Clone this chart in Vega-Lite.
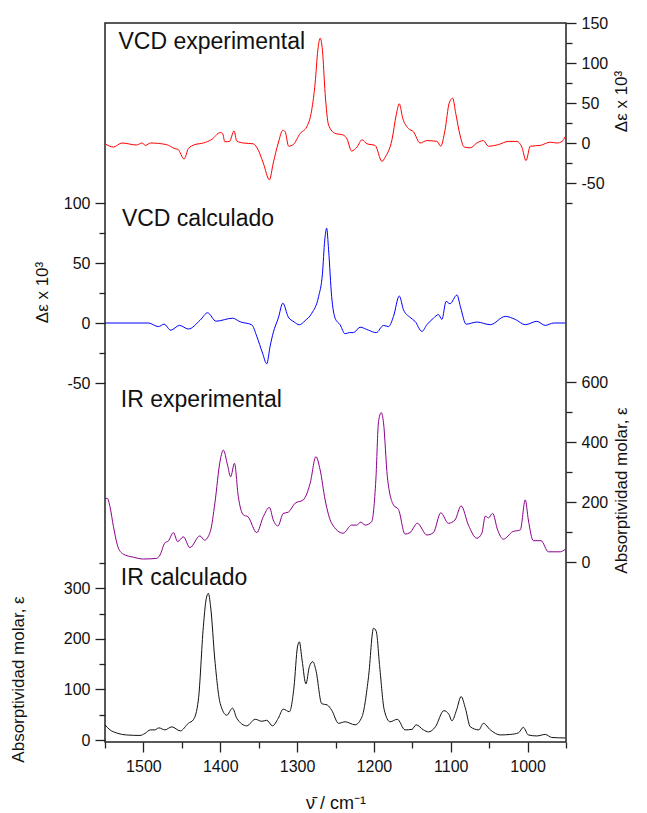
{
  "$schema": "https://vega.github.io/schema/vega-lite/v6.json",
  "width": 461,
  "height": 719,
  "autosize": {"type": "none"},
  "padding": {"left": 105, "top": 23, "right": 81, "bottom": 71},
  "config": {
    "font": "Liberation Sans",
    "view": {"stroke": "#222", "strokeWidth": 1.5},
    "axis": {
      "domain": false, "grid": false, "tickColor": "#222", "tickWidth": 1.3,
      "labelFontSize": 16, "labelColor": "#111", "labelFont": "Liberation Sans",
      "titleFont": "Liberation Sans", "titleFontSize": 17, "titleFontWeight": "normal", "titleColor": "#111",
      "labelPadding": 5, "labelOverlap": false, "labelFlush": false
    },
    "axisX": {
      "values": [1550,1500,1450,1400,1350,1300,1250,1200,1150,1100,1050,1000,950],
      "format": "d",
      "labelExpr": "datum.value % 100 === 0 ? datum.label : ''",
      "tickSize": {"condition": {"test": "datum.value % 100 === 0", "value": 10}, "value": 6},
      "labelPadding": 6,
      "titleFontSize": 18,
      "titleX": 230.5, "titleY": 66, "titleBaseline": "alphabetic", "titleAlign": "center"
    }
  },
  "datasets": {
    "vcdexp": [
      {"nu":1550,"v":-1},{"nu":1539,"v":-5},{"nu":1528,"v":0},{"nu":1509,"v":-2.5},{"nu":1502,"v":0},{"nu":1497,"v":-3},{"nu":1491,"v":0},{"nu":1470,"v":-2},{"nu":1459,"v":-7},{"nu":1455,"v":-8},{"nu":1447,"v":-20},{"nu":1441.5,"v":-7},{"nu":1433,"v":-2},{"nu":1422,"v":0},{"nu":1411,"v":4.5},{"nu":1400,"v":13},{"nu":1397,"v":12},{"nu":1394,"v":1.5},{"nu":1388,"v":2},{"nu":1382,"v":15},{"nu":1378.5,"v":2.5},{"nu":1370,"v":0},{"nu":1357,"v":-1},{"nu":1350.5,"v":-9},{"nu":1344,"v":-25},{"nu":1336,"v":-46},{"nu":1331,"v":-25},{"nu":1324.5,"v":0},{"nu":1318.5,"v":16},{"nu":1315.5,"v":14},{"nu":1311,"v":-4},{"nu":1305,"v":-2},{"nu":1296,"v":12},{"nu":1287.5,"v":20},{"nu":1281,"v":41},{"nu":1276.5,"v":75},{"nu":1273,"v":116},{"nu":1270,"v":131},{"nu":1267,"v":116},{"nu":1263.5,"v":62},{"nu":1259,"v":22.5},{"nu":1250.5,"v":12},{"nu":1240,"v":10},{"nu":1235,"v":5},{"nu":1229,"v":-10},{"nu":1222,"v":-5},{"nu":1215.5,"v":4},{"nu":1209,"v":-1},{"nu":1198.5,"v":-3},{"nu":1189.5,"v":-23},{"nu":1185.5,"v":-18},{"nu":1176.5,"v":4},{"nu":1171,"v":35},{"nu":1167,"v":49},{"nu":1162.5,"v":31},{"nu":1155,"v":18},{"nu":1148.5,"v":14},{"nu":1140,"v":0},{"nu":1131,"v":3},{"nu":1118,"v":2},{"nu":1113,"v":-4},{"nu":1107.5,"v":16},{"nu":1102,"v":50},{"nu":1097.5,"v":56},{"nu":1093.5,"v":37},{"nu":1088,"v":10},{"nu":1082.5,"v":-5},{"nu":1074.5,"v":-6},{"nu":1066,"v":0},{"nu":1057.5,"v":3},{"nu":1051,"v":-4},{"nu":1038,"v":-2},{"nu":1025,"v":2},{"nu":1014,"v":2},{"nu":1007.5,"v":-5},{"nu":1002,"v":-22},{"nu":996.5,"v":-4},{"nu":983.5,"v":-3},{"nu":970.5,"v":1},{"nu":962,"v":0},{"nu":955,"v":2},{"nu":951,"v":8}
    ],
    "vcdcalc": [
      {"nu":1550,"v":0},{"nu":1493.5,"v":0},{"nu":1480.5,"v":-3},{"nu":1473,"v":-1},{"nu":1464.5,"v":-6},{"nu":1453,"v":-2},{"nu":1441.5,"v":-5},{"nu":1426,"v":2.5},{"nu":1416.5,"v":8.5},{"nu":1405.5,"v":1.5},{"nu":1384,"v":4},{"nu":1374,"v":1},{"nu":1359,"v":-1.5},{"nu":1352.5,"v":-11},{"nu":1345,"v":-25},{"nu":1339.5,"v":-34},{"nu":1335,"v":-19},{"nu":1331,"v":-8},{"nu":1324.5,"v":4},{"nu":1318.5,"v":16.5},{"nu":1311.5,"v":5},{"nu":1304,"v":1},{"nu":1297,"v":-1.5},{"nu":1289.5,"v":2},{"nu":1281,"v":8},{"nu":1272,"v":22},{"nu":1267,"v":41},{"nu":1264,"v":69},{"nu":1261.5,"v":79},{"nu":1259,"v":61},{"nu":1255,"v":22},{"nu":1250.5,"v":4},{"nu":1244,"v":-1.5},{"nu":1237.5,"v":-9},{"nu":1232,"v":-8},{"nu":1226.5,"v":-8},{"nu":1218,"v":-3.5},{"nu":1207,"v":-6},{"nu":1197,"v":-8},{"nu":1187.5,"v":-2},{"nu":1181,"v":-3},{"nu":1174.5,"v":5.5},{"nu":1167,"v":22.5},{"nu":1161.5,"v":11},{"nu":1153,"v":4.7},{"nu":1146.5,"v":1.4},{"nu":1137.5,"v":-7},{"nu":1131,"v":-1.4},{"nu":1122.5,"v":4},{"nu":1116,"v":7},{"nu":1111.5,"v":3},{"nu":1106,"v":18},{"nu":1101,"v":16},{"nu":1092,"v":23.3},{"nu":1087,"v":12.5},{"nu":1080,"v":-1},{"nu":1066,"v":0.8},{"nu":1048.5,"v":-1.4},{"nu":1029,"v":5.5},{"nu":1016,"v":3},{"nu":1003,"v":-1.4},{"nu":988,"v":1.4},{"nu":977,"v":-2},{"nu":966,"v":0},{"nu":951,"v":0}
    ],
    "irexp": [
      {"nu":1550,"v":212},{"nu":1547,"v":212},{"nu":1543.5,"v":184},{"nu":1539,"v":118},{"nu":1532.5,"v":46},{"nu":1526,"v":26},{"nu":1513,"v":16},{"nu":1500,"v":10},{"nu":1483,"v":12},{"nu":1478.5,"v":23},{"nu":1472,"v":64},{"nu":1467.5,"v":70},{"nu":1461,"v":98},{"nu":1455.5,"v":68},{"nu":1448,"v":84},{"nu":1439.5,"v":48},{"nu":1426.5,"v":87},{"nu":1420.5,"v":73},{"nu":1413,"v":101},{"nu":1407,"v":196},{"nu":1400,"v":340},{"nu":1396,"v":373},{"nu":1390.5,"v":323},{"nu":1386.5,"v":284},{"nu":1381.5,"v":329},{"nu":1376.5,"v":218},{"nu":1370,"v":157},{"nu":1364,"v":151},{"nu":1352.5,"v":98},{"nu":1344,"v":151},{"nu":1336,"v":182},{"nu":1331,"v":140},{"nu":1325,"v":120},{"nu":1318,"v":162},{"nu":1311.5,"v":166},{"nu":1302.5,"v":196},{"nu":1292,"v":207},{"nu":1283,"v":262},{"nu":1275.5,"v":351},{"nu":1270,"v":307},{"nu":1263.5,"v":207},{"nu":1255,"v":129},{"nu":1240,"v":96},{"nu":1229,"v":123},{"nu":1222.5,"v":123},{"nu":1217,"v":133},{"nu":1211.5,"v":123},{"nu":1203,"v":134},{"nu":1197.5,"v":273},{"nu":1194,"v":468},{"nu":1190.5,"v":498},{"nu":1187.5,"v":464},{"nu":1182.5,"v":284},{"nu":1174.5,"v":190},{"nu":1168,"v":175},{"nu":1159.5,"v":93},{"nu":1153,"v":98},{"nu":1143.5,"v":129},{"nu":1131,"v":90},{"nu":1122.5,"v":98},{"nu":1113,"v":164},{"nu":1103,"v":129},{"nu":1094.5,"v":140},{"nu":1086.5,"v":187},{"nu":1077,"v":123},{"nu":1066,"v":79},{"nu":1059.5,"v":96},{"nu":1055,"v":153},{"nu":1051,"v":147},{"nu":1045.5,"v":162},{"nu":1039,"v":107},{"nu":1031.5,"v":76},{"nu":1019.5,"v":101},{"nu":1009.5,"v":107},{"nu":1003,"v":207},{"nu":999,"v":140},{"nu":992.5,"v":71},{"nu":982.5,"v":71},{"nu":973,"v":34},{"nu":957.5,"v":34},{"nu":951,"v":42}
    ],
    "ircalc": [
      {"nu":1550,"v":30},{"nu":1543.5,"v":20},{"nu":1535,"v":14},{"nu":1522,"v":10},{"nu":1504.5,"v":9},{"nu":1498,"v":13},{"nu":1491,"v":20},{"nu":1485,"v":20},{"nu":1480,"v":24},{"nu":1472,"v":20},{"nu":1463,"v":26},{"nu":1452,"v":18},{"nu":1441.5,"v":33},{"nu":1435,"v":40},{"nu":1428.5,"v":79},{"nu":1422,"v":224},{"nu":1418.5,"v":277},{"nu":1415.5,"v":290},{"nu":1412.5,"v":263},{"nu":1407,"v":158},{"nu":1400,"v":72},{"nu":1391.5,"v":49},{"nu":1384,"v":63},{"nu":1378.5,"v":43},{"nu":1365.5,"v":28},{"nu":1354.5,"v":41},{"nu":1346,"v":37},{"nu":1339.5,"v":39},{"nu":1332,"v":28},{"nu":1324.5,"v":43},{"nu":1318,"v":61},{"nu":1310,"v":56},{"nu":1304,"v":105},{"nu":1299.5,"v":184},{"nu":1297,"v":194},{"nu":1293.5,"v":158},{"nu":1288.5,"v":111},{"nu":1284,"v":145},{"nu":1279.5,"v":155},{"nu":1275.5,"v":138},{"nu":1268,"v":72},{"nu":1260.5,"v":69},{"nu":1255,"v":59},{"nu":1246,"v":33},{"nu":1237.5,"v":36},{"nu":1224.5,"v":30},{"nu":1215.5,"v":46},{"nu":1207,"v":125},{"nu":1200.5,"v":221},{"nu":1197,"v":215},{"nu":1192.5,"v":145},{"nu":1186.5,"v":59},{"nu":1179,"v":36},{"nu":1169.5,"v":41},{"nu":1159.5,"v":20},{"nu":1150.5,"v":21},{"nu":1145,"v":30},{"nu":1135.5,"v":20},{"nu":1129,"v":16},{"nu":1120,"v":26},{"nu":1109,"v":58},{"nu":1102.5,"v":51},{"nu":1098.5,"v":38},{"nu":1092.5,"v":59},{"nu":1086.5,"v":86},{"nu":1081,"v":63},{"nu":1074.5,"v":26},{"nu":1063.5,"v":20},{"nu":1057.5,"v":33},{"nu":1048.5,"v":20},{"nu":1035.5,"v":10},{"nu":1022.5,"v":11},{"nu":1012,"v":14},{"nu":1005.5,"v":25},{"nu":999,"v":10},{"nu":988,"v":8},{"nu":977,"v":11},{"nu":968.5,"v":5},{"nu":951,"v":4}
    ],
    "labels": [
      {"panel":"a","label":"VCD experimental"},
      {"panel":"b","label":"VCD calculado"},
      {"panel":"c","label":"IR experimental"},
      {"panel":"d","label":"IR calculado"}
    ]
  },
  "layer": [
    {
      "data": {"name": "vcdexp"},
      "mark": {"type": "line", "color": "#ff0000", "strokeWidth": 1, "interpolate": "monotone"},
      "encoding": {
        "x": {
          "field": "nu", "type": "quantitative", "title": "ν̄ / cm⁻¹",
          "scale": {"domain": [950, 1550], "reverse": true, "nice": false, "zero": false}
        },
        "y": {"field": "v", "type": "quantitative",
          "scale": {"domain": [-75, 150], "range": [180, 0], "nice": false, "zero": false},
          "axis": {"orient": "right", "values": [-75,-50,-25,0,25,50,75,100,125,150],
            "labelExpr": "datum.value % 50 === 0 ? replace(datum.label, '−', '-') : ''",
            "tickSize": {"condition": {"test": "datum.value % 50 === 0", "value": 10}, "value": 6},
            "title": "Δε x 10³", "titleAngle": 270, "titleX": 55, "titleY": 78, "titleBaseline": "middle", "titleAlign": "center"}}
      }
    },
    {
      "data": {"name": "vcdcalc"},
      "mark": {"type": "line", "color": "#0000ff", "strokeWidth": 1, "interpolate": "monotone"},
      "encoding": {
        "x": {"field": "nu", "type": "quantitative", "title": "ν̄ / cm⁻¹"},
        "y": {"field": "v", "type": "quantitative",
          "scale": {"domain": [-50, 100], "range": [360, 180], "nice": false, "zero": false},
          "axis": {"orient": "left", "values": [-50,-25,0,25,50,75,100],
            "labelExpr": "datum.value % 50 === 0 ? replace(datum.label, '−', '-') : ''",
            "tickSize": {"condition": {"test": "datum.value % 50 === 0", "value": 10}, "value": 6},
            "title": "Δε x 10³", "titleAngle": 270, "titleX": -63, "titleY": 269, "titleBaseline": "middle", "titleAlign": "center"}}
      }
    },
    {
      "data": {"name": "irexp"},
      "mark": {"type": "line", "color": "#8b008b", "strokeWidth": 1, "interpolate": "monotone"},
      "encoding": {
        "x": {"field": "nu", "type": "quantitative", "title": "ν̄ / cm⁻¹"},
        "y": {"field": "v", "type": "quantitative",
          "scale": {"domain": [0, 600], "range": [539, 359], "nice": false, "zero": false},
          "axis": {"orient": "right", "values": [0,100,200,300,400,500,600],
            "labelExpr": "datum.value % 200 === 0 ? datum.label : ''",
            "tickSize": {"condition": {"test": "datum.value % 200 === 0", "value": 10}, "value": 6},
            "title": "Absorptividad molar, ε", "titleAngle": 270, "titleX": 55, "titleY": 467, "titleBaseline": "middle", "titleAlign": "center"}}
      }
    },
    {
      "data": {"name": "ircalc"},
      "mark": {"type": "line", "color": "#111111", "strokeWidth": 1, "interpolate": "monotone"},
      "encoding": {
        "x": {"field": "nu", "type": "quantitative", "title": "ν̄ / cm⁻¹"},
        "y": {"field": "v", "type": "quantitative",
          "scale": {"domain": [0, 350], "range": [717, 540], "nice": false, "zero": false},
          "axis": {"orient": "left", "values": [0,50,100,150,200,250,300,350],
            "labelExpr": "datum.value % 100 === 0 ? datum.label : ''",
            "tickSize": {"condition": {"test": "datum.value % 100 === 0", "value": 10}, "value": 6},
            "title": "Absorptividad molar, ε", "titleAngle": 270, "titleX": -87, "titleY": 656, "titleBaseline": "middle", "titleAlign": "center"}}
      }
    },
    {
      "data": {"name": "labels"},
      "transform": [{"filter": "datum.panel === 'a'"}],
      "mark": {"type": "text", "align": "left", "baseline": "middle", "fontSize": 23, "font": "Liberation Sans", "color": "#111"},
      "encoding": {
        "x": {"datum": 1532.5, "type": "quantitative", "title": "ν̄ / cm⁻¹"},
        "y": {"datum": 126.5, "type": "quantitative", "scale": {"domain": [-75, 150], "range": [180, 0], "nice": false, "zero": false}, "axis": null},
        "text": {"field": "label"}
      }
    },
    {
      "data": {"name": "labels"},
      "transform": [{"filter": "datum.panel === 'b'"}],
      "mark": {"type": "text", "align": "left", "baseline": "middle", "fontSize": 23, "font": "Liberation Sans", "color": "#111"},
      "encoding": {
        "x": {"datum": 1528, "type": "quantitative", "title": "ν̄ / cm⁻¹"},
        "y": {"datum": 87, "type": "quantitative", "scale": {"domain": [-50, 100], "range": [360, 180], "nice": false, "zero": false}, "axis": null},
        "text": {"field": "label"}
      }
    },
    {
      "data": {"name": "labels"},
      "transform": [{"filter": "datum.panel === 'c'"}],
      "mark": {"type": "text", "align": "left", "baseline": "middle", "fontSize": 23, "font": "Liberation Sans", "color": "#111"},
      "encoding": {
        "x": {"datum": 1529.5, "type": "quantitative", "title": "ν̄ / cm⁻¹"},
        "y": {"datum": 540, "type": "quantitative", "scale": {"domain": [0, 600], "range": [539, 359], "nice": false, "zero": false}, "axis": null},
        "text": {"field": "label"}
      }
    },
    {
      "data": {"name": "labels"},
      "transform": [{"filter": "datum.panel === 'd'"}],
      "mark": {"type": "text", "align": "left", "baseline": "middle", "fontSize": 23, "font": "Liberation Sans", "color": "#111"},
      "encoding": {
        "x": {"datum": 1529.5, "type": "quantitative", "title": "ν̄ / cm⁻¹"},
        "y": {"datum": 320, "type": "quantitative", "scale": {"domain": [0, 350], "range": [717, 540], "nice": false, "zero": false}, "axis": null},
        "text": {"field": "label"}
      }
    }
  ],
  "resolve": {"scale": {"y": "independent"}, "axis": {"y": "independent"}}
}
